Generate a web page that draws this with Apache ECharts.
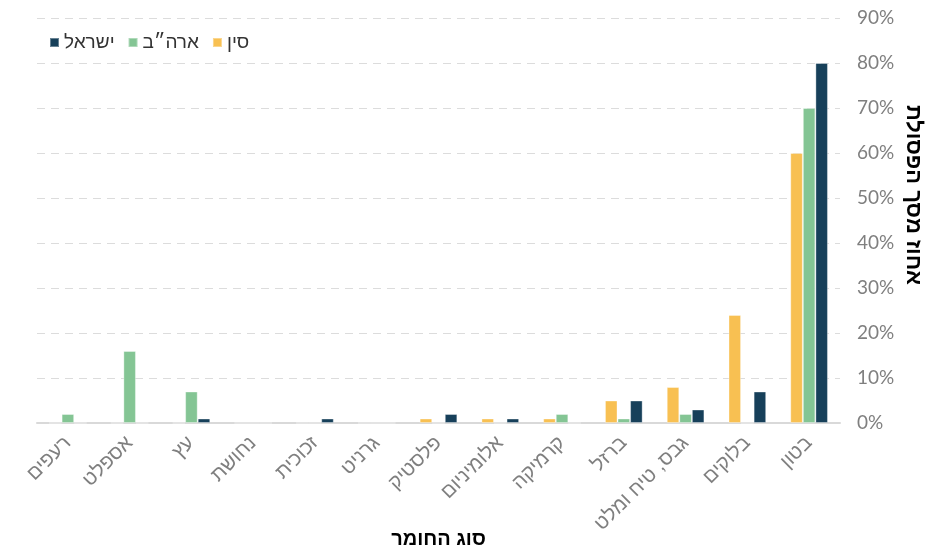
<!DOCTYPE html>
<html>
<head>
<meta charset="utf-8">
<script src="https://cdn.jsdelivr.net/npm/echarts@6/dist/echarts.min.js"></script>
<style>html,body{margin:0;padding:0;background:#fff}#c{width:949px;height:552px}</style>
</head>
<body>
<div id="c"></div>
<script>
const categories = ['רעפים','אספלט','עץ','נחושת','זכוכית','גרניט','פלסטיק','אלומיניום','קרמיקה','ברזל','גבס, טיח ומלט','בלוקים','בטון'];
const china  = [0, 0, 0, 0, 0, 0, 1, 1, 1, 5, 8, 24, 60];
const usa    = [2, 16, 7, 0, 0, 0, 0, 0, 2, 1, 2, 0, 70];
const israel = [0, 0, 1, 0, 1, 0, 2, 1, 0, 5, 3, 7, 80];
const seriesNames = ['סין', 'ארה״ב', 'ישראל'];
const legendOrder = ['ישראל', 'ארה״ב', 'סין'];
const yTicks = [0, 10, 20, 30, 40, 50, 60, 70, 80, 90];
const yTitle = 'אחוז מסך הפסולת';
const xTitle = 'סוג החומר';

const colors = ['#F8C052', '#84C594', '#17405A'];
const heb = "'Liberation Sans', 'DejaVu Sans', sans-serif";
const chart = echarts.init(document.getElementById('c'), null, {renderer: 'canvas'});
const data = [china, usa, israel];
chart.setOption({
  animation: false,
  color: colors,
  grid: {left: 37, right: 109, top: 18, bottom: 129, containLabel: false, outerBoundsMode: 'none'},
  legend: {
    data: legendOrder,
    left: 44, top: 28,
    itemWidth: 9, itemHeight: 9, itemGap: 13,
    icon: 'rect',
    textStyle: {fontFamily: heb, fontSize: 19, color: '#333'}
  },
  xAxis: {
    type: 'category',
    data: categories,
    name: xTitle,
    nameLocation: 'middle',
    nameGap: 106,
    nameMoveOverlap: false,
    nameTextStyle: {fontFamily: heb, fontSize: 20, fontWeight: 'bold', color: '#000'},
    axisLine: {lineStyle: {color: '#d9d9d9', width: 2}},
    axisTick: {show: false},
    axisLabel: {rotate: 45, interval: 0, margin: 17, fontFamily: heb, fontSize: 20, color: '#7f7f7f'}
  },
  yAxis: {
    type: 'value',
    position: 'right',
    min: 0, max: 90, interval: 10,
    axisLine: {show: false},
    axisTick: {show: false},
    axisLabel: {margin: 17, fontFamily: "Lato, 'Liberation Sans', sans-serif", fontSize: 19, color: '#7f7f7f', formatter: v => yTicks.includes(v) ? v + '%' : ''},
    splitLine: {lineStyle: {color: '#dcdcdc', type: [8, 6], width: 1}}
  },
  graphic: [{
    type: 'text',
    x: 913, y: 195,
    rotation: -Math.PI / 2,
    style: {text: yTitle, fontFamily: heb, fontSize: 22, fontWeight: 'bold', fill: '#000', align: 'center', verticalAlign: 'middle'}
  }],
  series: seriesNames.map((n, i) => ({
    name: n,
    type: 'bar',
    data: data[i],
    barGap: '0%',
    barCategoryGap: '39%',
    itemStyle: {borderColor: 'rgba(255,255,255,0.35)', borderWidth: 1}
  }))
});
</script>
</body>
</html>
